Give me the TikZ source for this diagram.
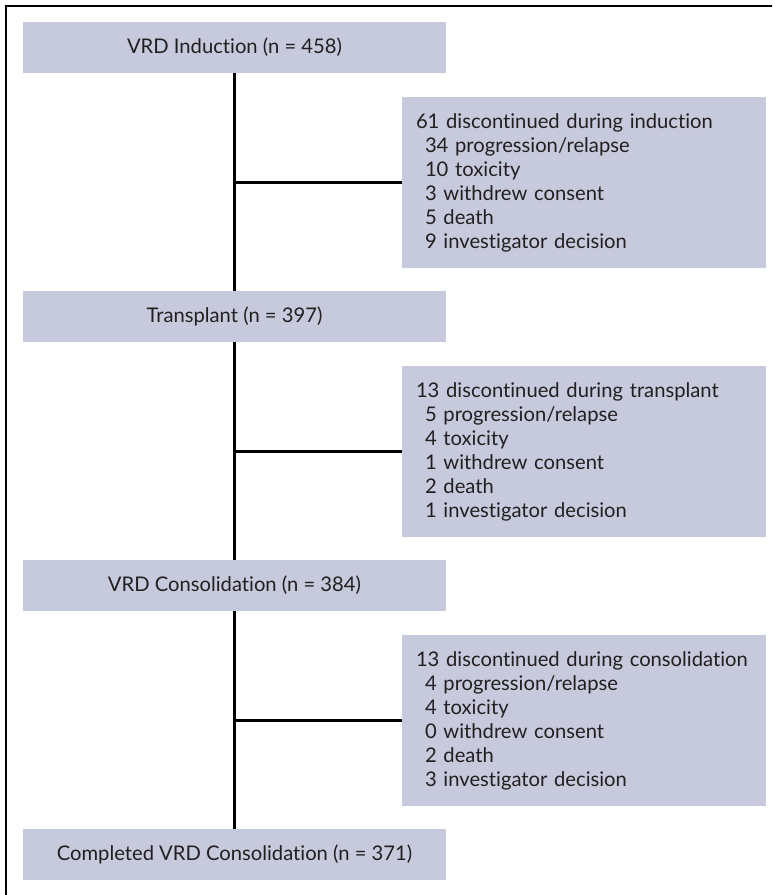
\documentclass[tikz,border=0pt]{standalone}
\usepackage{fontspec}
\setmainfont[Ligatures={NoCommon}]{Lato}
\definecolor{boxfill}{RGB}{199,201,220}
\definecolor{inkc}{RGB}{35,31,32}
\begin{document}
\begin{tikzpicture}[x=1pt,y=-1pt,
  mainbox/.style={fill=boxfill, draw=none, minimum width=423pt, minimum height=51pt,
    inner sep=0pt, text=inkc, font=\fontsize{20.2}{24}\selectfont},
  sidebox/.style={fill=boxfill, draw=none, minimum width=364pt, minimum height=171pt,
    inner xsep=14pt, inner ysep=0pt, text width=336pt, align=left, text=inkc,
    font=\fontsize{20.2}{24}\selectfont},
  link/.style={draw=black, line width=2.4pt}]
\clip (0,0) rectangle (772,895);
\fill[white] (0,0) rectangle (772,895);
\draw[line width=2.6pt] (6,910) -- (6,6) -- (790,6);

\node[mainbox] (b1) at (234.5,47.5) {VRD Induction (n = 458)};
\node[mainbox] (b2) at (234.5,316.5) {Transplant (n = 397)};
\node[mainbox] (b3) at (234.5,585.5) {VRD Consolidation (n = 384)};
\node[mainbox] (b4) at (234.5,854.5) {Completed VRD Consolidation (n = 371)};

\node[sidebox] (s1) at (584,182.5) {61 discontinued during induction\\
\hspace*{9pt}34 progression/relapse\\
\hspace*{9pt}10 toxicity\\
\hspace*{9pt}3 withdrew consent\\
\hspace*{9pt}5 death\\
\hspace*{9pt}9 investigator decision};
\node[sidebox] (s2) at (584,451.5) {13 discontinued during transplant\\
\hspace*{9pt}5 progression/relapse\\
\hspace*{9pt}4 toxicity\\
\hspace*{9pt}1 withdrew consent\\
\hspace*{9pt}2 death\\
\hspace*{9pt}1 investigator decision};
\node[sidebox] (s3) at (584,720.5) {13 discontinued during consolidation\\
\hspace*{9pt}4 progression/relapse\\
\hspace*{9pt}4 toxicity\\
\hspace*{9pt}0 withdrew consent\\
\hspace*{9pt}2 death\\
\hspace*{9pt}3 investigator decision};

\draw[link] (b1.south) -- (b2.north);
\draw[link] (b2.south) -- (b3.north);
\draw[link] (b3.south) -- (b4.north);
\draw[link] (b1.south |- s1.west) -- (s1.west);
\draw[link] (b2.south |- s2.west) -- (s2.west);
\draw[link] (b3.south |- s3.west) -- (s3.west);
\end{tikzpicture}
\end{document}
